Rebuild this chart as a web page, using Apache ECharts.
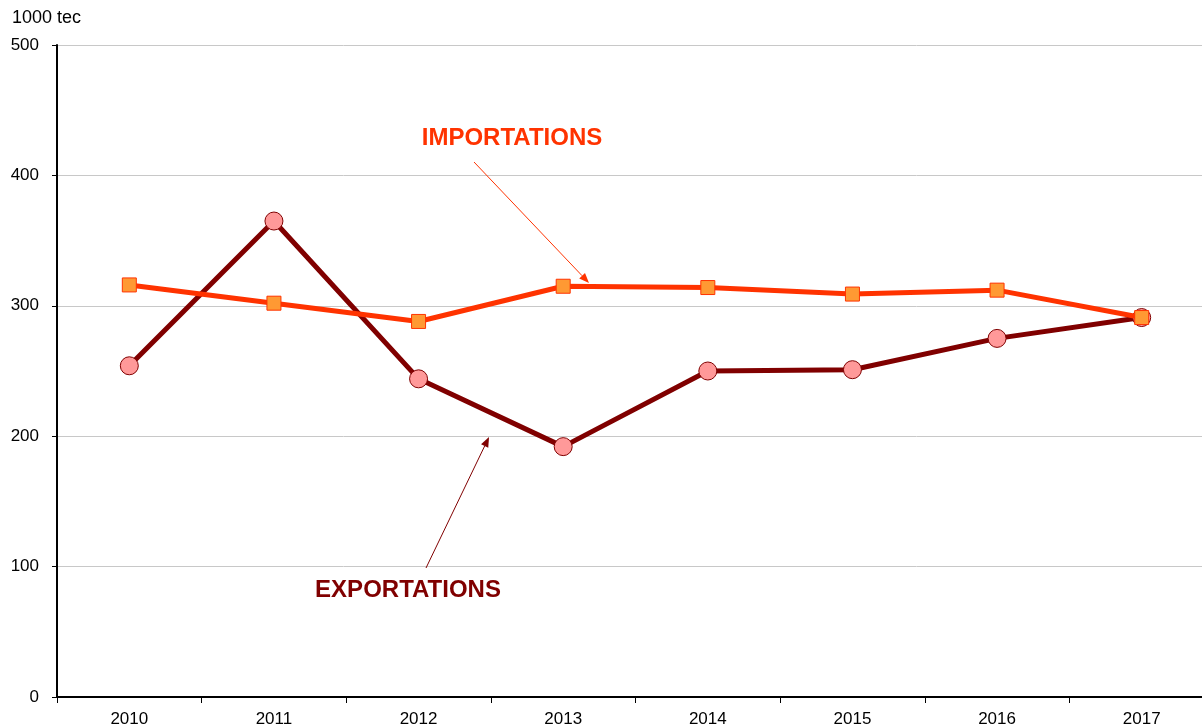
<!DOCTYPE html>
<html>
<head>
<meta charset="utf-8">
<script src="https://cdn.jsdelivr.net/npm/echarts@6/dist/echarts.min.js"></script>
<style>
  html, body { margin: 0; padding: 0; background: #fff; }
  #chart { width: 1202px; height: 728px; }
</style>
</head>
<body>
<div id="chart"></div>
<script>
    // données (1000 tec)
    var years = ['2010', '2011', '2012', '2013', '2014', '2015', '2016', '2017']
    var importations = [316, 302, 288, 315, 314, 309, 312, 291]
    var exportations = [254, 365, 244, 192, 250, 251, 275, 291]
    var yTicks = [0, 100, 200, 300, 400, 500]

    var font = '"Liberation Sans", Arial, sans-serif'
    var chart = echarts.init(document.getElementById('chart'))

    // flèche d'annotation : trait + petite pointe
    function arrow(x1, y1, x2, y2, color) {
        var a = Math.atan2(y2 - y1, x2 - x1)
        var len = 10, w = 4
        var bx = x2 - len * Math.cos(a), by = y2 - len * Math.sin(a)
        return [
            { type: 'line', shape: { x1: x1, y1: y1, x2: bx, y2: by },
              style: { stroke: color, lineWidth: 1 }, z: 100 },
            { type: 'polygon', shape: { points: [
                [x2, y2],
                [bx + w * Math.sin(a), by - w * Math.cos(a)],
                [bx - w * Math.sin(a), by + w * Math.cos(a)]
              ] }, style: { fill: color }, z: 100 }
        ]
    }

    var option = {
        animation: false,
        // la zone de tracé dépasse un peu à droite, comme dans l'original
        grid: { left: 57, right: -12, top: 45, bottom: 31, containLabel: false, outerBoundsMode: 'none' },
        xAxis: {
            type: 'category',
            data: years,
            boundaryGap: true,
            axisLine: { lineStyle: { color: '#000', width: 2 } },
            axisTick: { show: true, alignWithLabel: false, length: 6, lineStyle: { color: '#000', width: 1 } },
            axisLabel: { color: '#000', fontSize: 17, fontFamily: font, margin: 14 },
            splitLine: { show: false }
        },
        yAxis: {
            type: 'value',
            min: yTicks[0],
            max: yTicks[yTicks.length - 1],
            interval: 100,
            axisLine: { show: true, lineStyle: { color: '#000', width: 2 } },
            axisTick: { show: true, length: 5, lineStyle: { color: '#000', width: 1 } },
            axisLabel: { color: '#000', fontSize: 17, fontFamily: font, margin: 18 },
            splitLine: { show: true, lineStyle: { color: '#c8c8c8', width: 1 } }
        },
        series: [
            {
                name: 'IMPORTATIONS',
                type: 'line',
                data: importations,
                symbol: 'rect',
                symbolSize: 14,
                lineStyle: { color: '#ff3300', width: 5 },
                itemStyle: { color: '#ff9933', borderColor: '#ff3300', borderWidth: 1 },
                z: 3
            },
            {
                name: 'EXPORTATIONS',
                type: 'line',
                data: exportations,
                symbol: 'circle',
                symbolSize: 18,
                lineStyle: { color: '#800000', width: 5 },
                itemStyle: { color: '#ff9999', borderColor: '#800000', borderWidth: 1 },
                z: 2
            }
        ],
        graphic: [
            { type: 'text', left: 12, top: 9,
              style: { text: '1000 tec', fill: '#000', font: '18px ' + font } },
            { type: 'text', x: 512, y: 138,
              style: { text: 'IMPORTATIONS', fill: '#ff3300', font: 'bold 24px ' + font,
                       align: 'center', verticalAlign: 'middle' } },
            { type: 'text', x: 408, y: 590,
              style: { text: 'EXPORTATIONS', fill: '#800000', font: 'bold 24px ' + font,
                       align: 'center', verticalAlign: 'middle' } }
        ].concat(arrow(474, 162, 589, 283, '#ff3300'))
         .concat(arrow(426, 568, 489, 437, '#800000'))
    }

    chart.setOption(option)
</script>
</body>
</html>
